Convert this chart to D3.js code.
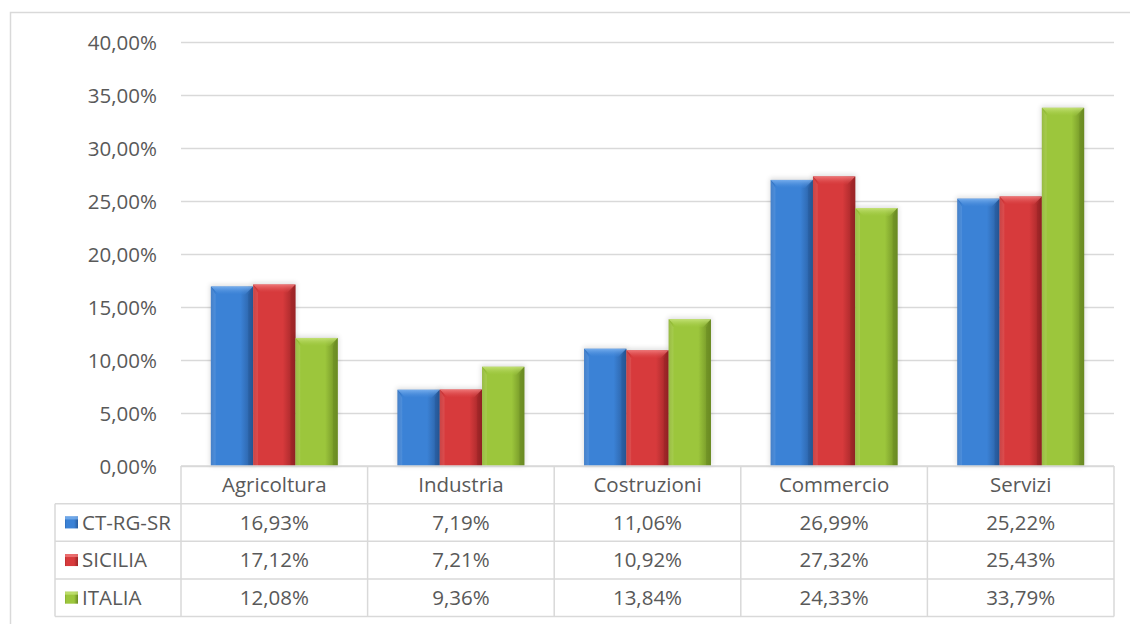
<!DOCTYPE html>
<html>
<head>
<meta charset="utf-8">
<script src="https://cdn.jsdelivr.net/npm/d3@7"></script>
<style>
  html, body { margin: 0; padding: 0; background: #fff; }
  svg { display: block; }
  text { font-family: "Open Sans", Lato, sans-serif; fill: #595959; }
</style>
</head>
<body>
<svg id="chart" width="1130" height="624"></svg>
<script>
const categories = ["Agricoltura", "Industria", "Costruzioni", "Commercio", "Servizi"];
const seriesNames = ["CT-RG-SR", "SICILIA", "ITALIA"];
const ctrgsr = [16.93, 7.19, 11.06, 26.99, 25.22];
const sicilia = [17.12, 7.21, 10.92, 27.32, 25.43];
const italia = [12.08, 9.36, 13.84, 24.33, 33.79];
const yTicks = [0, 5, 10, 15, 20, 25, 30, 35, 40];

const seriesValues = [ctrgsr, sicilia, italia];
const palette = [
  { main: "#3b82d6", light: "#7ab0ee", dark: "#285b9c", edge: "#2f6cb8" },
  { main: "#d73a3c", light: "#f07a7b", dark: "#9a2426", edge: "#b92d2f" },
  { main: "#9cc63c", light: "#c4e276", dark: "#6a8a22", edge: "#86ab2f" }
];

const fmt = v => v.toFixed(2).replace(".", ",") + "%";
const FS = 20.5;

const svg = d3.select("#chart");
const defs = svg.append("defs");

palette.forEach((c, i) => {
  const g = defs.append("linearGradient").attr("id", "grad" + i)
    .attr("x1", "0").attr("x2", "1").attr("y1", "0").attr("y2", "0");
  g.append("stop").attr("offset", "0%").attr("stop-color", c.edge);
  g.append("stop").attr("offset", "12%").attr("stop-color", c.main);
  g.append("stop").attr("offset", "70%").attr("stop-color", c.main);
  g.append("stop").attr("offset", "100%").attr("stop-color", c.dark);
  const t = defs.append("linearGradient").attr("id", "top" + i)
    .attr("x1", "0").attr("x2", "0").attr("y1", "0").attr("y2", "1");
  t.append("stop").attr("offset", "0%").attr("stop-color", c.light).attr("stop-opacity", 0.95);
  t.append("stop").attr("offset", "100%").attr("stop-color", c.main).attr("stop-opacity", 0.3);
});
const blur = defs.append("filter").attr("id", "shadow").attr("x", "-20%").attr("y", "-10%").attr("width", "140%").attr("height", "120%");
blur.append("feGaussianBlur").attr("stdDeviation", 2.5);

// outer frame (left & top edges)
svg.append("path").attr("d", "M10.5,624 V12.5 H1130")
  .attr("fill", "none").attr("stroke", "#d9d9d9").attr("stroke-width", 1.5);

const plotLeft = 181, plotRight = 1114;
const y = d3.scaleLinear().domain([0, 40]).range([466, 42]);
const x0 = d3.scaleBand().domain(categories).range([plotLeft, plotRight]);
const outerGap = x0.bandwidth() * 0.16;
const x1 = d3.scaleBand().domain(seriesNames).range([outerGap, x0.bandwidth() - outerGap]);

// gridlines + y labels
const yAxis = d3.axisLeft(y).tickValues(yTicks).tickSize(-(plotRight - plotLeft)).tickPadding(24).tickFormat(d => fmt(d));
const ga = svg.append("g").attr("transform", `translate(${plotLeft},0)`).call(yAxis);
ga.select(".domain").remove();
ga.selectAll(".tick line").attr("stroke", "#d9d9d9").attr("stroke-width", 1.5);
ga.selectAll(".tick text").attr("font-size", FS).attr("fill", "#595959")
  .attr("font-family", "'Open Sans', Lato, sans-serif").attr("dy", "0.35em");

// bars
const barsG = svg.append("g");
categories.forEach((cat, ci) => {
  seriesNames.forEach((s, si) => {
    const v = seriesValues[si][ci];
    const bx = x0(cat) + x1(s);
    const bw = x1.bandwidth();
    const by = y(v);
    const bh = y(0) - by;
    const c = palette[si];
    const b = Math.min(8, bh / 2);
    // shadow halo
    barsG.append("rect").attr("x", bx - 1).attr("y", by - 2).attr("width", bw + 2).attr("height", bh + 2)
      .attr("fill", "#000").attr("opacity", 0.12).attr("filter", "url(#shadow)");
    barsG.append("rect").attr("x", bx).attr("y", by).attr("width", bw).attr("height", bh)
      .attr("fill", `url(#grad${si})`);
    // top bevel
    barsG.append("path")
      .attr("d", `M${bx},${by} H${bx + bw} L${bx + bw - b},${by + b} H${bx + b} Z`)
      .attr("fill", `url(#top${si})`);
    // left bevel
    barsG.append("path")
      .attr("d", `M${bx},${by} L${bx + b * 0.6},${by + b} V${by + bh} H${bx} Z`)
      .attr("fill", c.light).attr("opacity", 0.3);
    // right bevel
    barsG.append("path")
      .attr("d", `M${bx + bw},${by} L${bx + bw - b * 0.6},${by + b} V${by + bh} H${bx + bw} Z`)
      .attr("fill", c.dark).attr("opacity", 0.55);
  });
});

// data table
const tableLeft = 55;
const rowY = d3.scaleBand().domain(["header"].concat(seriesNames)).range([466, 616.5]);
const tg = svg.append("g");
const lineCol = "#d9d9d9";
tg.append("line").attr("x1", plotLeft).attr("x2", plotRight).attr("y1", rowY("header")).attr("y2", rowY("header"))
  .attr("stroke", lineCol).attr("stroke-width", 1.5);
seriesNames.forEach(s => {
  tg.append("line").attr("x1", tableLeft).attr("x2", plotRight).attr("y1", rowY(s)).attr("y2", rowY(s))
    .attr("stroke", lineCol).attr("stroke-width", 1.5);
});
tg.append("line").attr("x1", tableLeft).attr("x2", plotRight).attr("y1", rowY.range()[1]).attr("y2", rowY.range()[1])
  .attr("stroke", lineCol).attr("stroke-width", 1.5);
tg.append("line").attr("x1", tableLeft).attr("x2", tableLeft).attr("y1", rowY(seriesNames[0])).attr("y2", rowY.range()[1])
  .attr("stroke", lineCol).attr("stroke-width", 1.5);
categories.forEach(cat => {
  tg.append("line").attr("x1", x0(cat)).attr("x2", x0(cat)).attr("y1", rowY("header")).attr("y2", rowY.range()[1])
    .attr("stroke", lineCol).attr("stroke-width", 1.5);
});
tg.append("line").attr("x1", plotRight).attr("x2", plotRight).attr("y1", rowY("header")).attr("y2", rowY.range()[1])
  .attr("stroke", lineCol).attr("stroke-width", 1.5);

categories.forEach(cat => {
  tg.append("text").attr("x", x0(cat) + x0.bandwidth() / 2).attr("y", rowY("header") + rowY.bandwidth() / 2)
    .attr("dy", "0.35em").attr("text-anchor", "middle").attr("font-size", FS).text(cat);
});
seriesNames.forEach((s, si) => {
  const cy = rowY(s) + rowY.bandwidth() / 2;
  const c = palette[si];
  tg.append("rect").attr("x", tableLeft + 10).attr("y", cy - 6).attr("width", 13).attr("height", 12)
    .attr("fill", `url(#grad${si})`);
  tg.append("rect").attr("x", tableLeft + 10).attr("y", cy - 6).attr("width", 13).attr("height", 3)
    .attr("fill", c.light).attr("opacity", 0.8);
  tg.append("text").attr("x", tableLeft + 27).attr("y", cy).attr("dy", "0.35em")
    .attr("font-size", FS).text(s);
  categories.forEach((cat, ci) => {
    tg.append("text").attr("x", x0(cat) + x0.bandwidth() / 2).attr("y", cy)
      .attr("dy", "0.35em").attr("text-anchor", "middle").attr("font-size", FS)
      .text(fmt(seriesValues[si][ci]));
  });
});
</script>
</body>
</html>
